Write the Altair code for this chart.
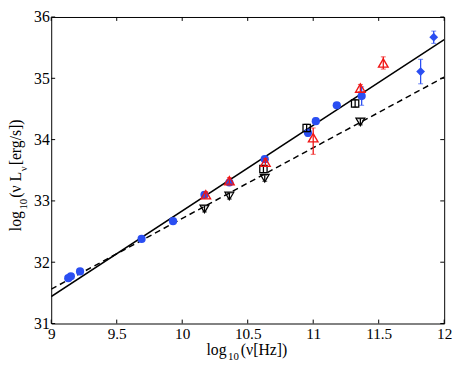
import altair as alt
import pandas as pd

# ---- data ----
blue_circle_x = [9.13, 9.15, 9.22, 9.69, 9.93, 10.17, 10.36, 10.63, 10.96, 11.02, 11.18, 11.37]
blue_circle_y = [31.74, 31.77, 31.85, 32.38, 32.67, 33.10, 33.30, 33.68, 34.11, 34.30, 34.56, 34.71]
blue_circle_err = [0.03, 0.03, 0.03, 0.03, 0.03, 0.04, 0.04, 0.04, 0.06, 0.05, 0.04, 0.15]

blue_diamond_x = [11.82, 11.92]
blue_diamond_y = [35.11, 35.67]
blue_diamond_err = [0.20, 0.10]

red_x = [10.18, 10.36, 10.635, 11.0, 11.36, 11.535]
red_y = [33.10, 33.33, 33.63, 34.03, 34.84, 35.25]
red_lo = [0.05, 0.05, 0.06, 0.27, 0.06, 0.10]
red_hi = [0.05, 0.05, 0.06, 0.16, 0.06, 0.10]

square_x = [10.62, 10.95, 11.32]
square_y = [33.52, 34.19, 34.59]
square_err = [0.06, 0.06, 0.06]

down_x = [10.17, 10.36, 10.63, 11.36]
down_y = [32.87, 33.08, 33.37, 34.29]
down_err = [0.05, 0.05, 0.05, 0.05]

solid_x = [9.0, 12.0]
solid_y = [31.44, 35.63]
dashed_x = [9.0, 12.0]
dashed_y = [31.56, 35.02]

x_ticks = [9, 9.5, 10, 10.5, 11, 11.5, 12]
y_ticks = [31, 32, 33, 34, 35, 36]

BLUE = "#2a4ef2"
RED = "#f01515"
FONT = "Liberation Serif"
W, H = 400, 312

xs = alt.Scale(domain=[9, 12], nice=False, zero=False)
ys = alt.Scale(domain=[31, 36], nice=False, zero=False)
xaxis = alt.Axis(values=x_ticks, format="~g", title=None, tickSize=0, domain=False,
                 grid=False, labelPadding=3, labelFlush=False, labelFontSize=15.5)
yaxis = alt.Axis(values=y_ticks, format="~g", title=None, tickSize=0, domain=False,
                 grid=False, labelPadding=2, labelFlush=False, labelFontSize=16)


def X(f):
    return alt.X(f"{f}:Q", scale=xs, axis=xaxis)


def Y(f):
    return alt.Y(f"{f}:Q", scale=ys, axis=yaxis)


def err_df(xv, yv, lo, hi):
    return pd.DataFrame({"x": xv, "y": yv,
                         "lo": [a - b for a, b in zip(yv, lo)],
                         "hi": [a + b for a, b in zip(yv, hi)]})


bc = err_df(blue_circle_x, blue_circle_y, blue_circle_err, blue_circle_err)
bd = err_df(blue_diamond_x, blue_diamond_y, blue_diamond_err, blue_diamond_err)
rd = err_df(red_x, red_y, red_lo, red_hi)
sq = err_df(square_x, square_y, square_err, square_err)
dn = err_df(down_x, down_y, down_err, down_err)

lines = pd.DataFrame({"x": solid_x + dashed_x, "y": solid_y + dashed_y,
                      "fit": ["solid"] * 2 + ["dashed"] * 2})

layers = []

# fit lines
layers.append(alt.Chart(lines[lines.fit == "solid"]).mark_line(color="black", strokeWidth=1.5, clip=True)
              .encode(x=X("x"), y=Y("y")))
layers.append(alt.Chart(lines[lines.fit == "dashed"]).mark_line(color="black", strokeWidth=1.5,
                                                                strokeDash=[6, 4], clip=True)
              .encode(x=X("x"), y=Y("y")))


def errbars(df, color):
    r = alt.Chart(df).mark_rule(color=color, strokeWidth=1.3).encode(x=X("x"), y=Y("lo"), y2="hi")
    c1 = alt.Chart(df).mark_tick(color=color, orient="horizontal", size=5, thickness=1).encode(x=X("x"), y=Y("lo"))
    c2 = alt.Chart(df).mark_tick(color=color, orient="horizontal", size=5, thickness=1).encode(x=X("x"), y=Y("hi"))
    return [r, c1, c2]


# blue circles
layers += errbars(bc, BLUE)
layers.append(alt.Chart(bc).mark_point(shape="circle", filled=True, color=BLUE, size=70, opacity=1)
              .encode(x=X("x"), y=Y("y")))
# blue diamonds
layers += errbars(bd, BLUE)
layers.append(alt.Chart(bd).mark_point(shape="diamond", filled=True, color=BLUE, size=80, opacity=1)
              .encode(x=X("x"), y=Y("y")))
# black squares
layers += errbars(sq, "black")
layers.append(alt.Chart(sq).mark_point(shape="square", filled=False, color="black", size=55,
                                       strokeWidth=1.3, opacity=1)
              .encode(x=X("x"), y=Y("y")))
# black down triangles
layers += errbars(dn, "black")
layers.append(alt.Chart(dn).mark_point(shape="triangle-down", filled=False, color="black", size=80,
                                       strokeWidth=1.3, opacity=1)
              .encode(x=X("x"), y=Y("y")))
# red up triangles
layers += errbars(rd, RED)
layers.append(alt.Chart(rd).mark_point(shape="triangle-up", filled=False, color=RED, size=95,
                                       strokeWidth=1.4, opacity=1)
              .encode(x=X("x"), y=Y("y")))

# inward ticks on all four sides
xt = pd.DataFrame({"t": x_ticks})
yt = pd.DataFrame({"t": y_ticks})
layers.append(alt.Chart(xt).mark_rule(color="black", strokeWidth=1)
              .encode(x=X("t"), y=alt.value(H), y2=alt.value(H - 4)))
layers.append(alt.Chart(xt).mark_rule(color="black", strokeWidth=1)
              .encode(x=X("t"), y=alt.value(0), y2=alt.value(4)))
layers.append(alt.Chart(yt).mark_rule(color="black", strokeWidth=1)
              .encode(y=Y("t"), x=alt.value(0), x2=alt.value(4)))
layers.append(alt.Chart(yt).mark_rule(color="black", strokeWidth=1)
              .encode(y=Y("t"), x=alt.value(W), x2=alt.value(W - 4)))

# axis titles with subscripts
one = pd.DataFrame({"a": [0]})


def txt(text, x, y, size, angle=0):
    return alt.Chart(one).mark_text(text=text, font=FONT, fontSize=size, color="black",
                                    align="left", baseline="alphabetic", angle=angle).encode(
        x=alt.value(x), y=alt.value(y))


# x title
layers += [txt("log", 158, 344, 16), txt("10", 180, 349, 11), txt("(ν[Hz])", 193, 344, 16)]
# y title (rotated, reading bottom-to-top)
bx = -31
y0 = 218
layers += [
    txt("log", bx, y0, 16, 270),
    txt("10", bx + 6, y0 - 22, 11, 270),
    txt("(ν L", bx, y0 - 34, 16, 270),
    txt("ν", bx + 6, y0 - 61, 11, 270),
    txt(" [erg/s])", bx, y0 - 67, 16, 270),
]

chart = alt.layer(*layers).properties(
    width=W, height=H,
    autosize=alt.AutoSizeParams(type="none"),
    padding={"left": 44, "top": 6, "right": 11, "bottom": 35},
).configure_view(stroke="black", strokeWidth=1).configure_axis(
    labelFont=FONT, labelColor="black"
)

chart.save("out.html", embed_options={"renderer": "svg", "actions": False})
